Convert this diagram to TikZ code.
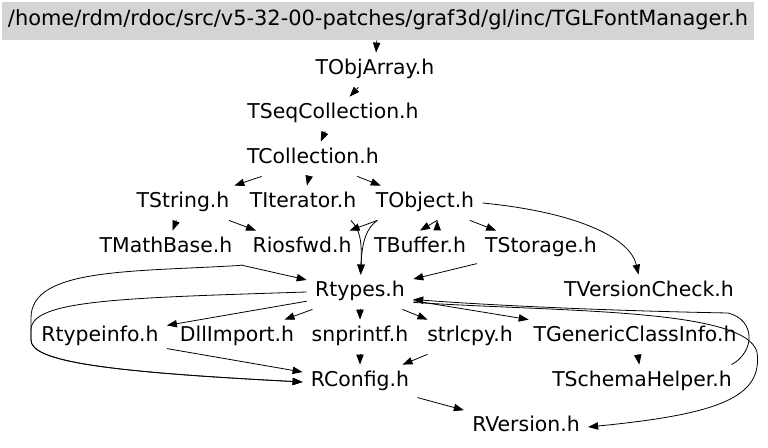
\documentclass[tikz,border=0pt]{standalone}
\usepackage{fontspec}
\setmainfont{DejaVu Sans}
\usetikzlibrary{arrows.meta}
\begin{document}
\begin{tikzpicture}[->,>={Triangle[length=7.5pt,width=5.5pt]},x=0.75pt,y=-0.75pt,line width=0.6pt,
  every node/.style={font=\fontsize{15.3}{18}\selectfont,inner xsep=6pt,inner ysep=5.5pt,text height=11pt,text depth=3.5pt}]
\useasboundingbox (0,0) rectangle (768,448);
\node[fill=black!17,font=\fontsize{15.7}{18}\selectfont,inner xsep=1pt,minimum width=564pt,minimum height=28.5pt] (TGLFontManager) at (378,21) {/home/rdm/rdoc/src/v5-32-00-patches/graf3d/gl/inc/TGLFontManager.h};
\node (TObjArray) at (375,70) {TObjArray.h};
\node (TSeqCollection) at (333,114) {TSeqCollection.h};
\node (TCollection) at (313,159) {TCollection.h};
\node (TString) at (183,203) {TString.h};
\node (TIterator) at (303,203) {TIterator.h};
\node (TObject) at (425,203) {TObject.h};
\node (TMathBase) at (166,248) {TMathBase.h};
\node (Riosfwd) at (302,248) {Riosfwd.h};
\node (TBuffer) at (420,248) {TBuffer.h};
\node (TStorage) at (541,248) {TStorage.h};
\node (Rtypes) at (360,292) {Rtypes.h};
\node (TVersionCheck) at (649,292) {TVersionCheck.h};
\node (Rtypeinfo) at (100,337) {Rtypeinfo.h};
\node (DllImport) at (237,337) {DllImport.h};
\node (snprintf) at (360,337) {snprintf.h};
\node (strlcpy) at (470,337) {strlcpy.h};
\node (TGenericClassInfo) at (635,337) {TGenericClassInfo.h};
\node (RConfig) at (360,382) {RConfig.h};
\node (TSchemaHelper) at (642,382) {TSchemaHelper.h};
\node (RVersion) at (526,427) {RVersion.h};
\draw (TGLFontManager) edge (TObjArray);
\draw (TObjArray) edge (TSeqCollection);
\draw (TSeqCollection) edge (TCollection);
\draw (TCollection) edge (TString);
\draw (TCollection) edge (TIterator);
\draw (TCollection) edge (TObject);
\draw (TString) edge (TMathBase);
\draw (TString) edge (Riosfwd);
\draw (TObject) edge (Riosfwd);
\draw (TObject.-55) edge (TBuffer.north);
\draw (TObject) edge (TStorage);
\draw (TIterator.-20) .. controls (360,230) and (362,240) .. (Rtypes);
\draw (TObject.200) .. controls (367,228) and (362,240) .. (Rtypes);
\draw (TObject.east) .. controls (575,212) and (630,237) .. (TVersionCheck.121);
\draw (TMathBase) edge (Rtypes);
\draw (TStorage) edge (Rtypes);
\draw (TMathBase.south east) .. controls (130,272) and (31,268) .. (31,318) -- (31,340) .. controls (31,362) and (110,372) .. (RConfig.west);
\draw (Rtypes.west) .. controls (120,298) and (31,300) .. (31,330) -- (31,340) .. controls (31,362) and (110,372) .. (RConfig.west);
\draw (Rtypes) edge (Rtypeinfo);
\draw (Rtypes) edge (DllImport);
\draw (Rtypes) edge (snprintf);
\draw (Rtypes) edge (strlcpy);
\draw (Rtypes) edge (TGenericClassInfo);
\draw (Rtypes.-11) .. controls (560,312) and (745,308) .. (757,352) .. controls (763,397) and (720,414) .. (RVersion.east);
\draw (TSchemaHelper.11) .. controls (755,352) and (756,320) .. (728,313) .. controls (620,311) and (500,306) .. (Rtypes.-8);
\draw (TGenericClassInfo) edge (TSchemaHelper);
\draw (Rtypeinfo) edge (RConfig);
\draw (snprintf) edge (RConfig);
\draw (strlcpy) edge (RConfig);
\draw (RConfig) edge (RVersion);
\end{tikzpicture}
\end{document}
